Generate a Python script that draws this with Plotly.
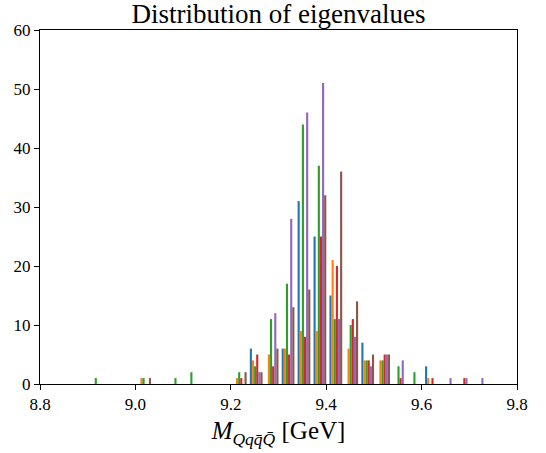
import numpy as np
import plotly.graph_objects as go

# Histogram binning (25 bins)
bin_start = 8.9025
bin_width = 0.0334
n_bins = 25

# Counts per bin for each of the six eigenvalue sets
counts_blue   = [0,0,0,0,0,0,0,0,0,0,6,0,6,31,25,15,0,7,0,0,0,3,0,0,0]
counts_orange = [0,0,0,1,0,0,0,0,0,1,4,5,6,9,9,21,6,4,4,0,0,1,0,0,0]
counts_green  = [1,0,0,1,0,1,2,0,0,2,3,11,17,44,37,11,10,4,4,3,2,0,0,0,0]
counts_red    = [0,0,0,0,0,0,0,0,0,1,5,3,5,8,25,20,11,4,5,1,0,1,0,1,0]
counts_purple = [0,0,0,0,0,0,0,0,0,0,2,12,28,46,51,11,8,3,5,4,0,0,1,1,1]
counts_brown  = [0,0,0,1,0,0,0,0,0,2,2,6,13,16,32,36,14,5,5,0,0,0,0,0,0]

series = [counts_blue, counts_orange, counts_green, counts_red, counts_purple, counts_brown]
colors = ["#1f77b4", "#ff7f0e", "#2ca02c", "#d62728", "#9467bd", "#8c564b"]

x_ticks = [8.8, 9.0, 9.2, 9.4, 9.6, 9.8]
y_ticks = [0, 10, 20, 30, 40, 50, 60]

centers = bin_start + bin_width * (np.arange(n_bins) + 0.5)

fig = go.Figure()
for c, col in zip(series, colors):
    fig.add_trace(go.Bar(x=centers, y=c, marker=dict(color=col, line=dict(width=0)),
                         showlegend=False))

font_family = "Liberation Serif"
fig.update_layout(
    width=546, height=453,
    margin=dict(l=40, r=29, t=30, b=69),
    paper_bgcolor="white", plot_bgcolor="white",
    barmode="group", bargap=0.2, bargroupgap=0,
    font=dict(family=font_family, color="black", size=17),
    title=dict(text="Distribution of eigenvalues", x=0.5, xanchor="center",
               xref="paper", y=1 - 14/453, yanchor="middle",
               font=dict(size=27, family=font_family, color="black")),
)
fig.update_xaxes(
    range=[8.8, 9.8], tickvals=x_ticks, ticktext=[f"{v:.1f}" for v in x_ticks],
    showline=True, mirror=True, linecolor="black", linewidth=1,
    ticks="outside", ticklen=5, tickcolor="black", showgrid=False, zeroline=False,
    tickfont=dict(size=17, family=font_family, color="black"),
    title=dict(text="<i>M</i><sub><i>Qqq\u0304Q\u0304</i></sub> [GeV]",
               font=dict(size=25, family=font_family, color="black"), standoff=8),
)
fig.update_yaxes(
    range=[0, 60], tickvals=y_ticks,
    showline=True, mirror=True, linecolor="black", linewidth=1,
    ticks="outside", ticklen=5, tickcolor="black", showgrid=False, zeroline=False,
    tickfont=dict(size=17, family=font_family, color="black"),
)
fig.write_html("out.html")
